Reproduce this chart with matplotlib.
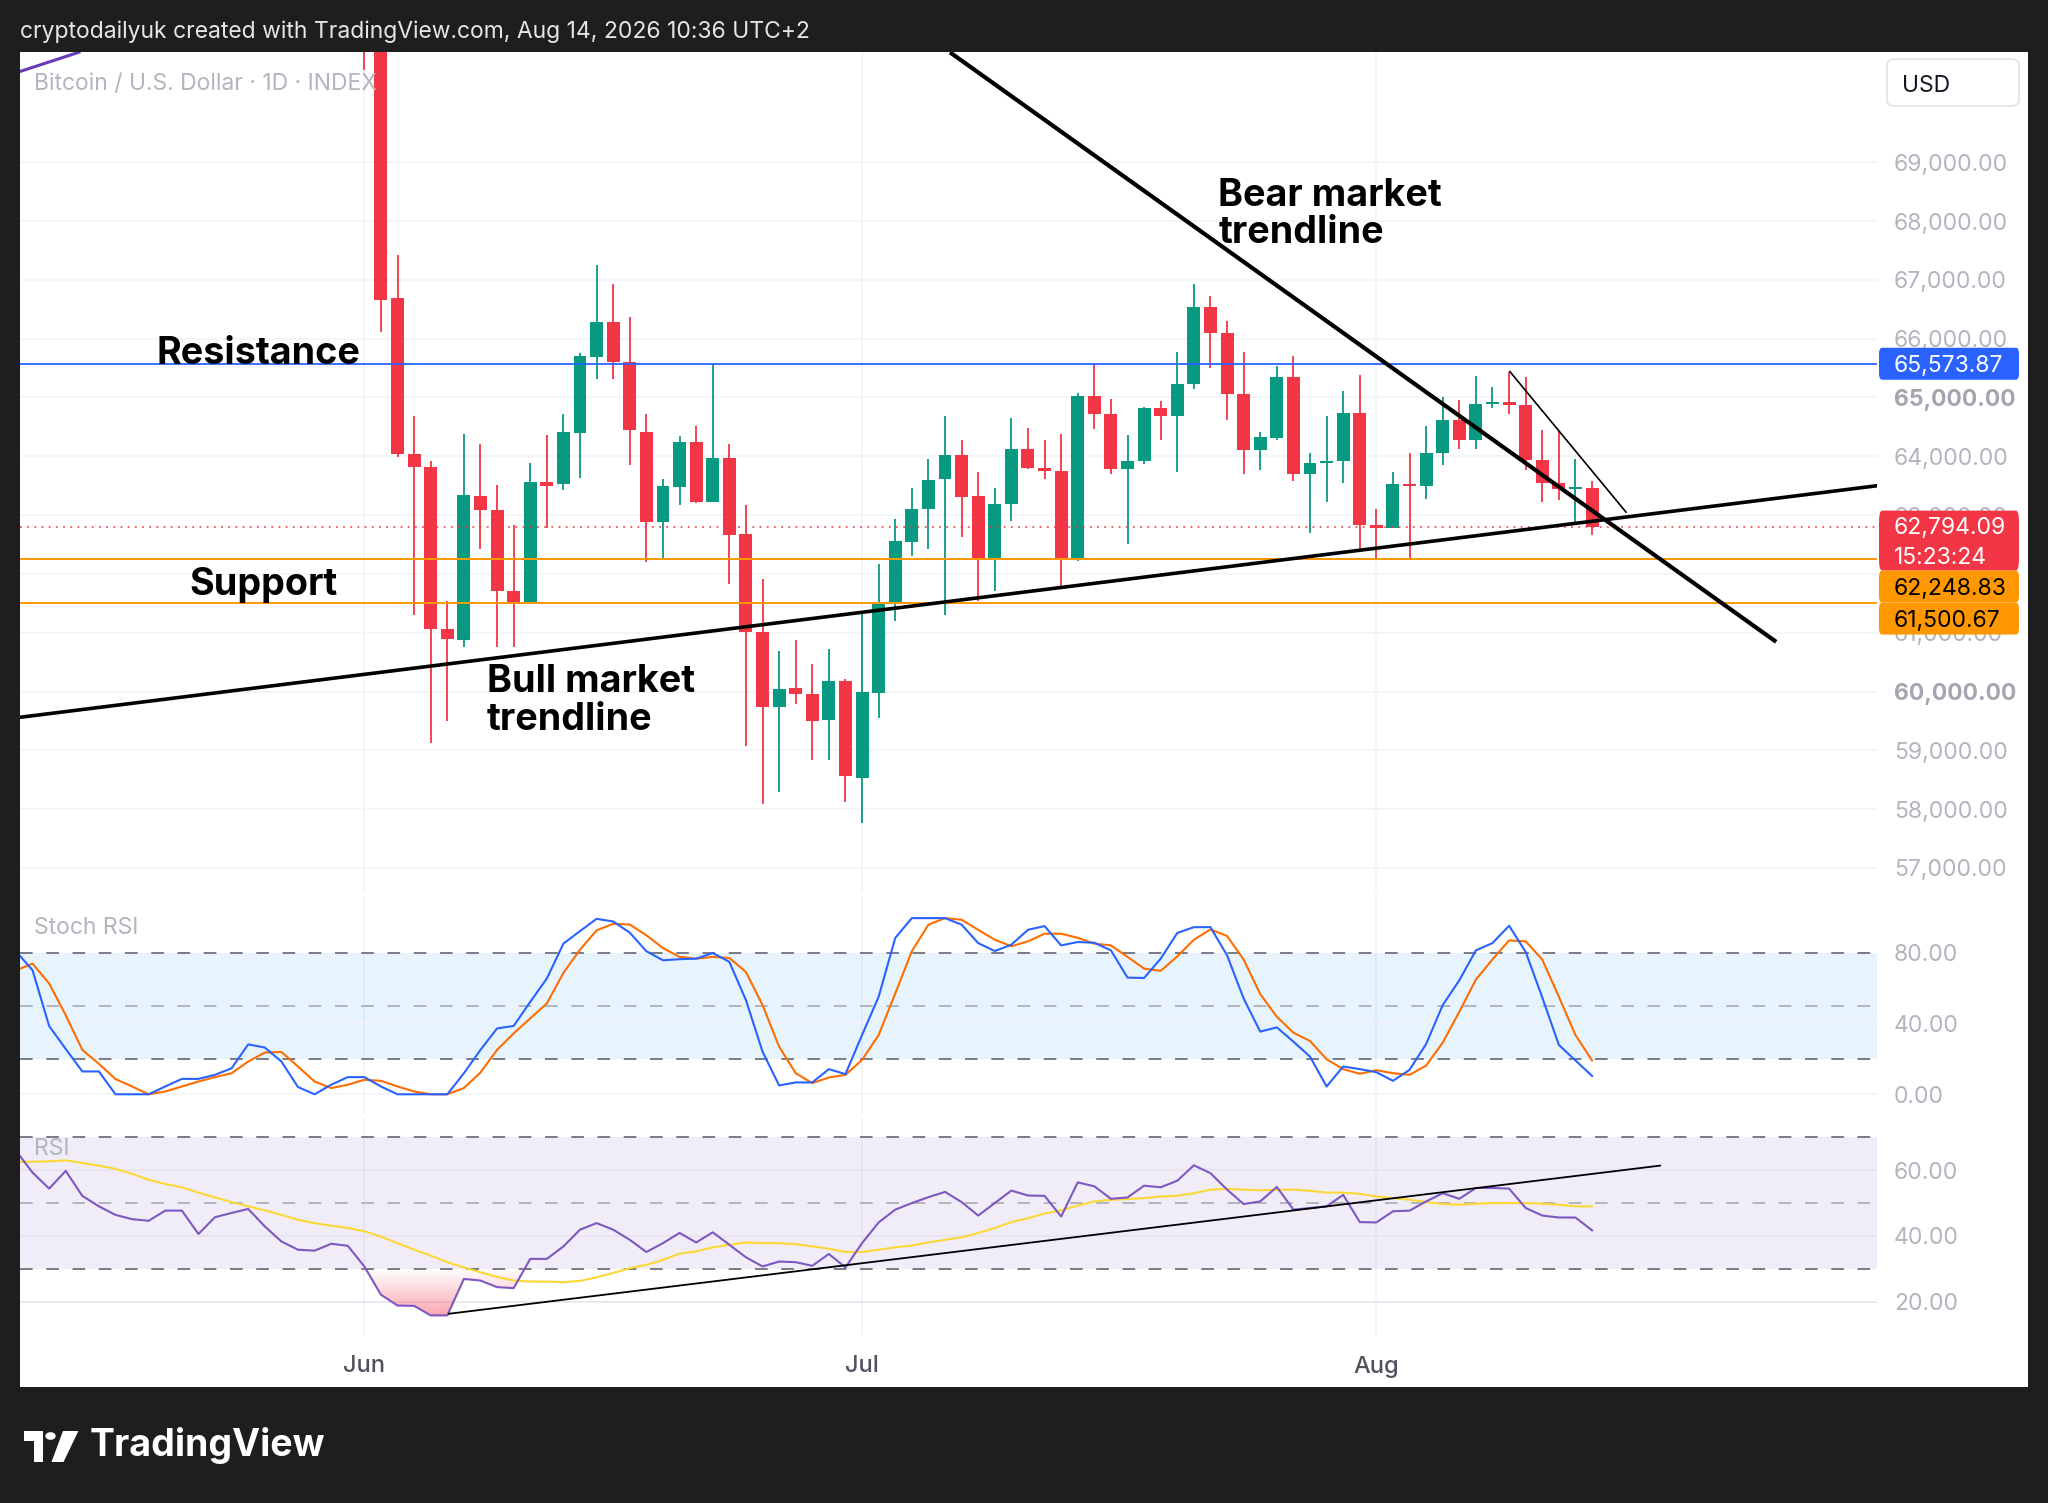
import matplotlib
matplotlib.use("Agg")
import matplotlib.pyplot as plt
import matplotlib.transforms as mtransforms
from matplotlib.patches import Rectangle, FancyBboxPatch, Polygon, Circle
from matplotlib.path import Path
import numpy as np

plt.rcParams['font.family'] = ['Inter', 'DejaVu Sans']

# ---- data (day 0 = Jun 1) ----
candle_days = list(range(0, 75))
opens = [72800, 71600, 66688, 64042, 63814, 61064, 60869, 63326, 63079, 61714,
         61493, 63567, 63521, 64399, 65687, 66285, 65596, 64419, 62884, 63476,
         64250, 63229, 63964, 62676, 61018, 59737, 60056, 59965, 59510, 60173,
         58534, 59978, 61506, 62546, 63099, 63606, 64022, 63326, 62267, 63196,
         64126, 63794, 63749, 62267, 65017, 64724, 63781, 63912, 64822, 64692,
         65225, 66545, 66090, 65062, 64107, 64315, 65355, 63703, 63879, 63925,
         64737, 62839, 62787, 63521, 63489, 64061, 64614, 64282, 64887, 64919,
         64874, 63931, 63554, 63437, 63456]
highs = [73200, 71900, 67423, 64679, 63925, 61538, 64386, 64217, 63508, 62826,
         63879, 64354, 64724, 65752, 67247, 66935, 66363, 64724, 63606, 64347,
         64516, 65570, 64217, 63164, 61915, 60693, 60875, 60465, 60726, 60205,
         61311, 62169, 62936, 63456, 63957, 64679, 64282, 63736, 63469, 64659,
         64477, 64269, 64386, 65082, 65570, 64971, 64354, 64841, 64939, 65778,
         66922, 66727, 66298, 65778, 64412, 65537, 65713, 64055, 64679, 65114,
         65375, 63112, 63736, 64055, 64510, 65004, 64952, 65361, 65179, 65440,
         65342, 64451, 64432, 63957, 63586]
lows = [70565, 66122, 63996, 61298, 59120, 59503, 60758, 62416, 60758, 60758,
        61493, 62787, 63424, 63638, 65309, 65309, 63860, 62201, 62267, 63164,
        63209, 63229, 61831, 59068, 58079, 58287, 59796, 58840, 58827, 58125,
        57767, 59555, 61200, 62306, 62416, 61298, 62624, 61538, 61701, 62904,
        63781, 63606, 61798, 62221, 64464, 63703, 62501, 63866, 64269, 63736,
        65147, 65505, 64614, 63697, 63768, 64269, 63573, 62696, 63229, 63541,
        62397, 62267, 62787, 62267, 63281, 63847, 64126, 64126, 64822, 64711,
        63768, 63216, 63261, 62826, 62657]
closes = [71600, 66655, 64042, 63814, 61064, 60888, 63339, 63079, 61701, 61493,
          63567, 63502, 64412, 65700, 66285, 65596, 64445, 62884, 63502, 64250,
          63229, 63964, 62657, 61018, 59737, 60043, 59965, 59490, 60173, 58560,
          59991, 61486, 62566, 63099, 63599, 64022, 63313, 62267, 63196, 64126,
          63794, 63749, 62267, 65017, 64724, 63781, 63925, 64822, 64692, 65231,
          66545, 66090, 65062, 64107, 64321, 65355, 63703, 63879, 63925, 64737,
          62839, 62787, 63521, 63489, 64061, 64614, 64282, 64887, 64919, 64867,
          63931, 63554, 63437, 63456, 62794.09]

ind_days = list(range(-21, 75))
stoch_k = [80.7, 70.1, 38.6, 25.6, 12.9, 12.9, 0, 0, 0, 4.4, 8.7, 8.7, 11.0, 14.7,
           28.2, 26.4, 18.5, 4.1, 0, 5.4, 9.7,
           9.7, 4.4, 0, 0, 0, 0, 11.9, 25.1, 37.2, 38.6, 52.2, 65.4, 85.1, 92.2,
           99.1, 97.6, 91.3, 80.8, 75.7, 76.3, 76.6, 79.8, 74.8, 53.2, 24.1, 5.0,
           6.7, 6.7, 14.2, 11.4, 33.5, 55.1, 88.3, 99.5, 99.5, 99.5, 95.8, 85.4,
           80.9, 84.5, 92.9, 95.0, 84.1, 86.0, 85.6, 81.3, 65.9, 65.7, 76.6, 91.1,
           94.4, 94.4, 78.5, 54.1, 35.4, 37.8, 29.7, 21.3, 4.4, 15.7, 14.2, 12.5,
           7.6, 13.8, 28.4, 50.4, 64.4, 81.3, 85.4, 95.2, 80.4, 54.7, 27.9, 19.1, 10.4]
stoch_d = [70.0, 73.8, 62.6, 44.7, 25.1, 17.2, 8.6, 4.4, 0, 1.6, 4.4, 7.2, 9.7, 11.9,
           18.5, 23.6, 23.9, 15.7, 7.2, 3.5, 5.4,
           8.2, 7.6, 4.4, 1.6, 0, 0, 3.5, 12.3, 25.1, 34.4, 42.9, 51.3, 68.6, 81.7,
           92.6, 96.3, 95.9, 89.8, 82.6, 77.6, 76.6, 77.6, 77.0, 69.1, 50.4, 26.9,
           11.9, 6.3, 9.5, 11.0, 19.4, 33.5, 56.9, 80.8, 95.8, 99.5, 98.6, 92.9,
           87.3, 83.6, 86.4, 90.7, 90.7, 88.4, 85.1, 84.1, 77.6, 71.0, 69.7, 77.9,
           87.3, 93.1, 89.4, 76.1, 56.6, 43.8, 34.8, 30.1, 19.8, 14.2, 11.6, 13.6,
           11.9, 11.0, 16.2, 29.2, 46.6, 64.8, 76.2, 86.9, 86.4, 76.1, 55.1, 33.5, 19.1]
rsi = [65.9, 59.3, 54.4, 59.8, 52.2, 49.0, 46.4, 45.1, 44.6, 47.7, 47.7, 40.6, 45.7,
       47.0, 48.2, 42.9, 38.3, 35.8, 35.5, 37.6, 37.0,
       30.7, 22.1, 18.8, 18.7, 15.8, 15.8, 26.9, 26.4, 24.4, 24.1, 33.0, 33.0, 36.8,
       41.9, 43.9, 41.9, 38.8, 35.1, 37.8, 40.9, 38.0, 41.1, 37.3, 33.5, 30.7, 32.2,
       32.0, 30.9, 34.5, 30.4, 37.8, 44.1, 48.0, 50.0, 51.8, 53.4, 50.3, 46.2, 50.0,
       53.8, 52.3, 52.2, 45.9, 56.3, 55.1, 51.3, 51.7, 55.3, 54.8, 56.8, 61.5, 59.1,
       54.1, 49.7, 50.5, 54.9, 48.0, 48.5, 49.0, 52.5, 44.2, 44.1, 47.5, 47.7, 50.5,
       53.0, 51.3, 54.6, 54.6, 54.4, 48.5, 46.2, 45.6, 45.6, 41.7]
rsi_ma = [62.5, 62.6, 62.7, 63.0, 62.2, 61.4, 60.4, 58.9, 57.1, 55.8, 54.8, 53.2,
          51.7, 50.3, 49.0, 47.8, 46.4, 44.9, 43.9, 43.1, 42.4,
          41.4, 39.8, 37.8, 35.8, 34.0, 32.0, 30.4, 28.9, 27.5, 26.4, 26.1, 26.1,
          25.9, 26.3, 27.4, 28.7, 30.2, 31.2, 32.7, 34.6, 35.3, 36.5, 37.3, 38.0,
          37.8, 37.8, 37.5, 36.8, 36.1, 35.1, 35.1, 35.8, 36.5, 37.1, 38.0, 38.8,
          39.6, 40.9, 42.4, 44.2, 45.4, 46.8, 47.8, 49.2, 50.5, 51.0, 51.2, 51.5,
          52.0, 52.2, 53.0, 54.1, 54.3, 54.1, 53.9, 54.0, 54.1, 53.7, 53.2, 53.2,
          52.8, 52.0, 51.5, 51.0, 50.3, 49.7, 49.5, 49.8, 50.0, 50.0, 50.0, 49.8,
          49.5, 49.0, 49.0]

resistance = 65573.87
support_hi = 62248.83
support_lo = 61500.67
last_price = 62794.09
countdown = "15:23:24"

bull_x, bull_y = [-20.8, 91.2], [59560, 63500]
bear_x, bear_y = [35.3, 85.1], [70870, 60844]
thin_x, thin_y = [69.05, 76.05], [65440, 63050]
purple_x, purple_y = [-20.8, -17.2], [70540, 70872]
rsi_tl_x, rsi_tl_y = [5.1, 78.1], [16.3, 61.4]

price_ticks = [57000, 58000, 59000, 60000, 61000, 63000, 64000, 65000, 66000,
               67000, 68000, 69000]
bold_ticks = [60000, 65000]
month_days = [0, 30, 61]
month_labels = ["Jun", "Jul", "Aug"]

GREEN, RED = "#089981", "#F23645"
GRID = "#F0F3FA"
LABEL = "#B2B5BE"
DARK = "#1E1E1E"
VC = "center_baseline"

# ---- figure layout (pixel based) ----
W, H = 2048, 1503
fig = plt.figure(figsize=(W / 100, H / 100), dpi=100, facecolor=DARK)


def fx(px):
    return px / W


def fy(py):
    return 1 - py / H


def add_ax(x0, y0, x1, y1):
    a = fig.add_axes([fx(x0), fy(y1), fx(x1) - fx(x0), fy(y0) - fy(y1)])
    a.set_facecolor("none")
    for s in a.spines.values():
        s.set_visible(False)
    a.set_xticks([])
    a.set_yticks([])
    return a


fig.patches.append(Rectangle((fx(19.6), fy(1386.8)), fx(2028) - fx(19.6),
                             fy(52.2) - fy(1386.8), transform=fig.transFigure,
                             facecolor="white", edgecolor="none", zorder=-5))

X0, X1 = 19.6, 1876.9
XR = 2028
ax = add_ax(X0, 52.2, X1, 893.2)
ax_st = add_ax(X0, 896, X1, 1115)
ax_rsi = add_ax(X0, 1118, X1, 1334.6)
axp = add_ax(X1, 52.2, XR, 893.2)
axp_st = add_ax(X1, 896, XR, 1115)
axp_rsi = add_ax(X1, 1118, XR, 1334.6)

xlim = (-20.78, 91.17)
rsi_lim = (9.95, 75.9)
for a in (ax, ax_st, ax_rsi):
    a.set_xlim(*xlim)
    for d in month_days:
        a.axvline(d, color=GRID, lw=1.2, zorder=0)
ax.set_ylim(56570, 70872)
ax_st.set_ylim(-11.7, 112.0)
ax_rsi.set_ylim(*rsi_lim)
axp.set_ylim(ax.get_ylim())
axp_st.set_ylim(ax_st.get_ylim())
axp_rsi.set_ylim(ax_rsi.get_ylim())
for a in (axp, axp_st, axp_rsi):
    a.set_xlim(0, 1)

# ---- price pane ----
for p in range(57000, 70000, 1000):
    ax.axhline(p, color=GRID, lw=1.2, zorder=0)

for d, o, h, l, c in zip(candle_days, opens, highs, lows, closes):
    col = GREEN if c >= o else RED
    ax.vlines(d, l, h, color=col, lw=1.3, zorder=2)
    body = max(abs(c - o), 40)
    ax.add_patch(Rectangle((d - 0.39, min(o, c)), 0.78, body, facecolor=col,
                           edgecolor="none", zorder=3))

ax.axhline(resistance, color="#2962FF", lw=1.3, zorder=4)
ax.axhline(support_hi, color="#FF9800", lw=1.4, zorder=4)
ax.axhline(support_lo, color="#FF9800", lw=1.4, zorder=4)
ax.axhline(last_price, color=RED, lw=1.1, ls=(0, (1.2, 3.5)), zorder=4)

ax.plot(bull_x, bull_y, color="black", lw=2.6, zorder=5, solid_capstyle="butt")
ax.plot(bear_x, bear_y, color="black", lw=3.0, zorder=5, solid_capstyle="butt")
ax.plot(thin_x, thin_y, color="black", lw=1.2, zorder=5)
ax.plot(purple_x, purple_y, color="#673AB7", lw=2.2, zorder=5)

ann = dict(fontsize=27.2, fontweight="bold", color="black", ha="left", va="center", zorder=6)
ax.text(-12.52, 65745, "Resistance", **ann)
ax.text(-10.55, 61810, "Support", **ann)
ax.text(7.40, 60167, "Bull market", **ann)
ax.text(7.40, 59522, "trendline", **ann)
ax.text(51.48, 68434, "Bear market", **ann)
ax.text(51.48, 67790, "trendline", **ann)

ax.text(0.0078, 0.975, "Bitcoin / U.S. Dollar · 1D · INDEX", transform=ax.transAxes,
        fontsize=16.5, color=LABEL, ha="left", va="top")

# price scale
lab_x = (1894 - X1) / (XR - X1)
for p in price_ticks:
    b = p in bold_ticks
    axp.text(lab_x, p, f"{p:,.2f}", fontsize=16.5, color="#A3A6AF" if b else LABEL,
             fontweight="bold" if b else "normal", ha="left", va=VC, zorder=1)

tag_x, tag_w = (1879 - X1) / (XR - X1), (2019 - 1879) / (XR - X1)
line_h = 544


def tag(y0, h, color, lines, tcolor):
    axp.add_patch(FancyBboxPatch((tag_x, y0), tag_w, h, boxstyle="round,pad=0,rounding_size=0.02",
                                 mutation_aspect=h / 0.1, facecolor=color, edgecolor="none",
                                 zorder=3))
    n = len(lines)
    for i, t in enumerate(lines):
        yc = y0 + h - (i + 0.5) * h / n
        axp.text(lab_x, yc, t, fontsize=16.5, color=tcolor, ha="left", va=VC, zorder=4)


tag(resistance - line_h / 2, line_h, "#2962FF", [f"{resistance:,.2f}"], "white")
red_top = last_price + 282
red_h = 1020
tag(red_top - red_h, red_h, RED, [f"{last_price:,.2f}", countdown], "white")
o1 = red_top - red_h - line_h
tag(o1, line_h, "#FF9800", [f"{support_hi:,.2f}"], "black")
tag(o1 - line_h, line_h, "#FF9800", [f"{support_lo:,.2f}"], "black")

usd = FancyBboxPatch((fx(1887), fy(106)), fx(2019) - fx(1887), fy(59) - fy(106),
                     boxstyle="round,pad=0,rounding_size=0.004", transform=fig.transFigure,
                     facecolor="white", edgecolor="#E0E3EB", lw=1.2, zorder=5)
fig.patches.append(usd)
fig.text(fx(1902), fy(83), "USD", fontsize=16.5, color="#131722", ha="left", va=VC, zorder=6)

# ---- stoch rsi pane ----
ax_st.axhspan(20, 80, color="#2196F3", alpha=0.1, lw=0, zorder=0)
for v in (0, 40):
    ax_st.axhline(v, color=GRID, lw=1.2, zorder=0)
ax_st.axhline(80, color="#787B86", lw=1.4, ls=(0, (6.5, 7)), zorder=1)
ax_st.axhline(20, color="#787B86", lw=1.4, ls=(0, (6.5, 7)), zorder=1)
ax_st.axhline(50, color="#B2B5BE", lw=1.4, ls=(0, (6.5, 7)), zorder=1)
ax_st.plot(ind_days, stoch_d, color="#FF6D00", lw=1.5, zorder=3)
ax_st.plot(ind_days, stoch_k, color="#2962FF", lw=1.5, zorder=3)
ax_st.text(0.0078, 0.864, "Stoch RSI", transform=ax_st.transAxes, fontsize=16.5,
           color=LABEL, ha="left", va=VC)
for v in (80, 40, 0):
    axp_st.text(lab_x, v, f"{v:.2f}", fontsize=16.5, color=LABEL, ha="left", va=VC)

# ---- rsi pane ----
ax_rsi.axhspan(30, 70, color="#7E57C2", alpha=0.1, lw=0, zorder=0)
for v in (20, 40, 60):
    ax_rsi.axhline(v, color="#E6E3EE", lw=1.2, zorder=0)
ax_rsi.axhline(70, color="#787B86", lw=1.4, ls=(0, (6.5, 7)), zorder=1)
ax_rsi.axhline(30, color="#787B86", lw=1.4, ls=(0, (6.5, 7)), zorder=1)
ax_rsi.axhline(50, color="#B2B5BE", lw=1.4, ls=(0, (6.5, 7)), zorder=1)

rsi_arr = np.array(rsi)
fb = ax_rsi.fill_between(ind_days, rsi_arr, 30, where=rsi_arr < 30, interpolate=True,
                         facecolor="none", edgecolor="none")
paths = fb.get_paths()
if paths:
    clip = Path.make_compound_path(*paths)
    grad = np.zeros((120, 1, 4))
    grad[..., 0], grad[..., 1], grad[..., 2] = 242 / 255, 54 / 255, 69 / 255
    grad[:, 0, 3] = np.linspace(0.6, 0.0, 120)
    im = ax_rsi.imshow(grad, extent=[-2, 14, 10, 30], origin="lower", aspect="auto",
                       zorder=1, interpolation="bilinear")
    im.set_clip_path(clip, transform=ax_rsi.transData)
ax_rsi.set_xlim(*xlim)
ax_rsi.set_ylim(*rsi_lim)

ax_rsi.plot(ind_days, rsi_ma, color="#FDD835", lw=1.5, zorder=3)
ax_rsi.plot(ind_days, rsi, color="#7E57C2", lw=1.5, zorder=3)
ax_rsi.plot(rsi_tl_x, rsi_tl_y, color="black", lw=1.3, zorder=4)
ax_rsi.text(0.0078, 0.87, "RSI", transform=ax_rsi.transAxes, fontsize=16.5,
            color=LABEL, ha="left", va=VC)
for v in (60, 40, 20):
    axp_rsi.text(lab_x, v, f"{v:.2f}", fontsize=16.5, color=LABEL, ha="left", va=VC)

# ---- date axis ----
tr = mtransforms.blended_transform_factory(ax_rsi.transData, fig.transFigure)
for d, m in zip(month_days, month_labels):
    ax_rsi.text(d, fy(1364), m, transform=tr, fontsize=17, color="#50535E",
                fontweight="medium", ha="center", va=VC, clip_on=False)

# ---- header / footer ----
fig.text(fx(19.6), fy(29), "cryptodailyuk created with TradingView.com, Aug 14, 2026 10:36 UTC+2",
         fontsize=16.5, color="#E6E6E6", ha="left", va=VC)

logo_1 = [(23.5, 1431), (43, 1431), (43, 1462), (33.5, 1462), (33.5, 1441), (23.5, 1441)]
logo_2 = [(63, 1431), (78.4, 1431), (63.5, 1462), (51.5, 1462)]
for pts in (logo_1, logo_2):
    fig.patches.append(Polygon([(fx(x), fy(y)) for x, y in pts], closed=True,
                               transform=fig.transFigure, facecolor="white", edgecolor="none"))
fig.patches.append(Circle((fx(50.5), fy(1436)), 5.2 / W, transform=fig.transFigure,
                          facecolor="white", edgecolor="none"))
fig.text(fx(90), fy(1446), "TradingView", fontsize=27, fontweight="bold", color="white",
         ha="left", va="center")

fig.savefig("out.png", dpi=100, facecolor=DARK)
